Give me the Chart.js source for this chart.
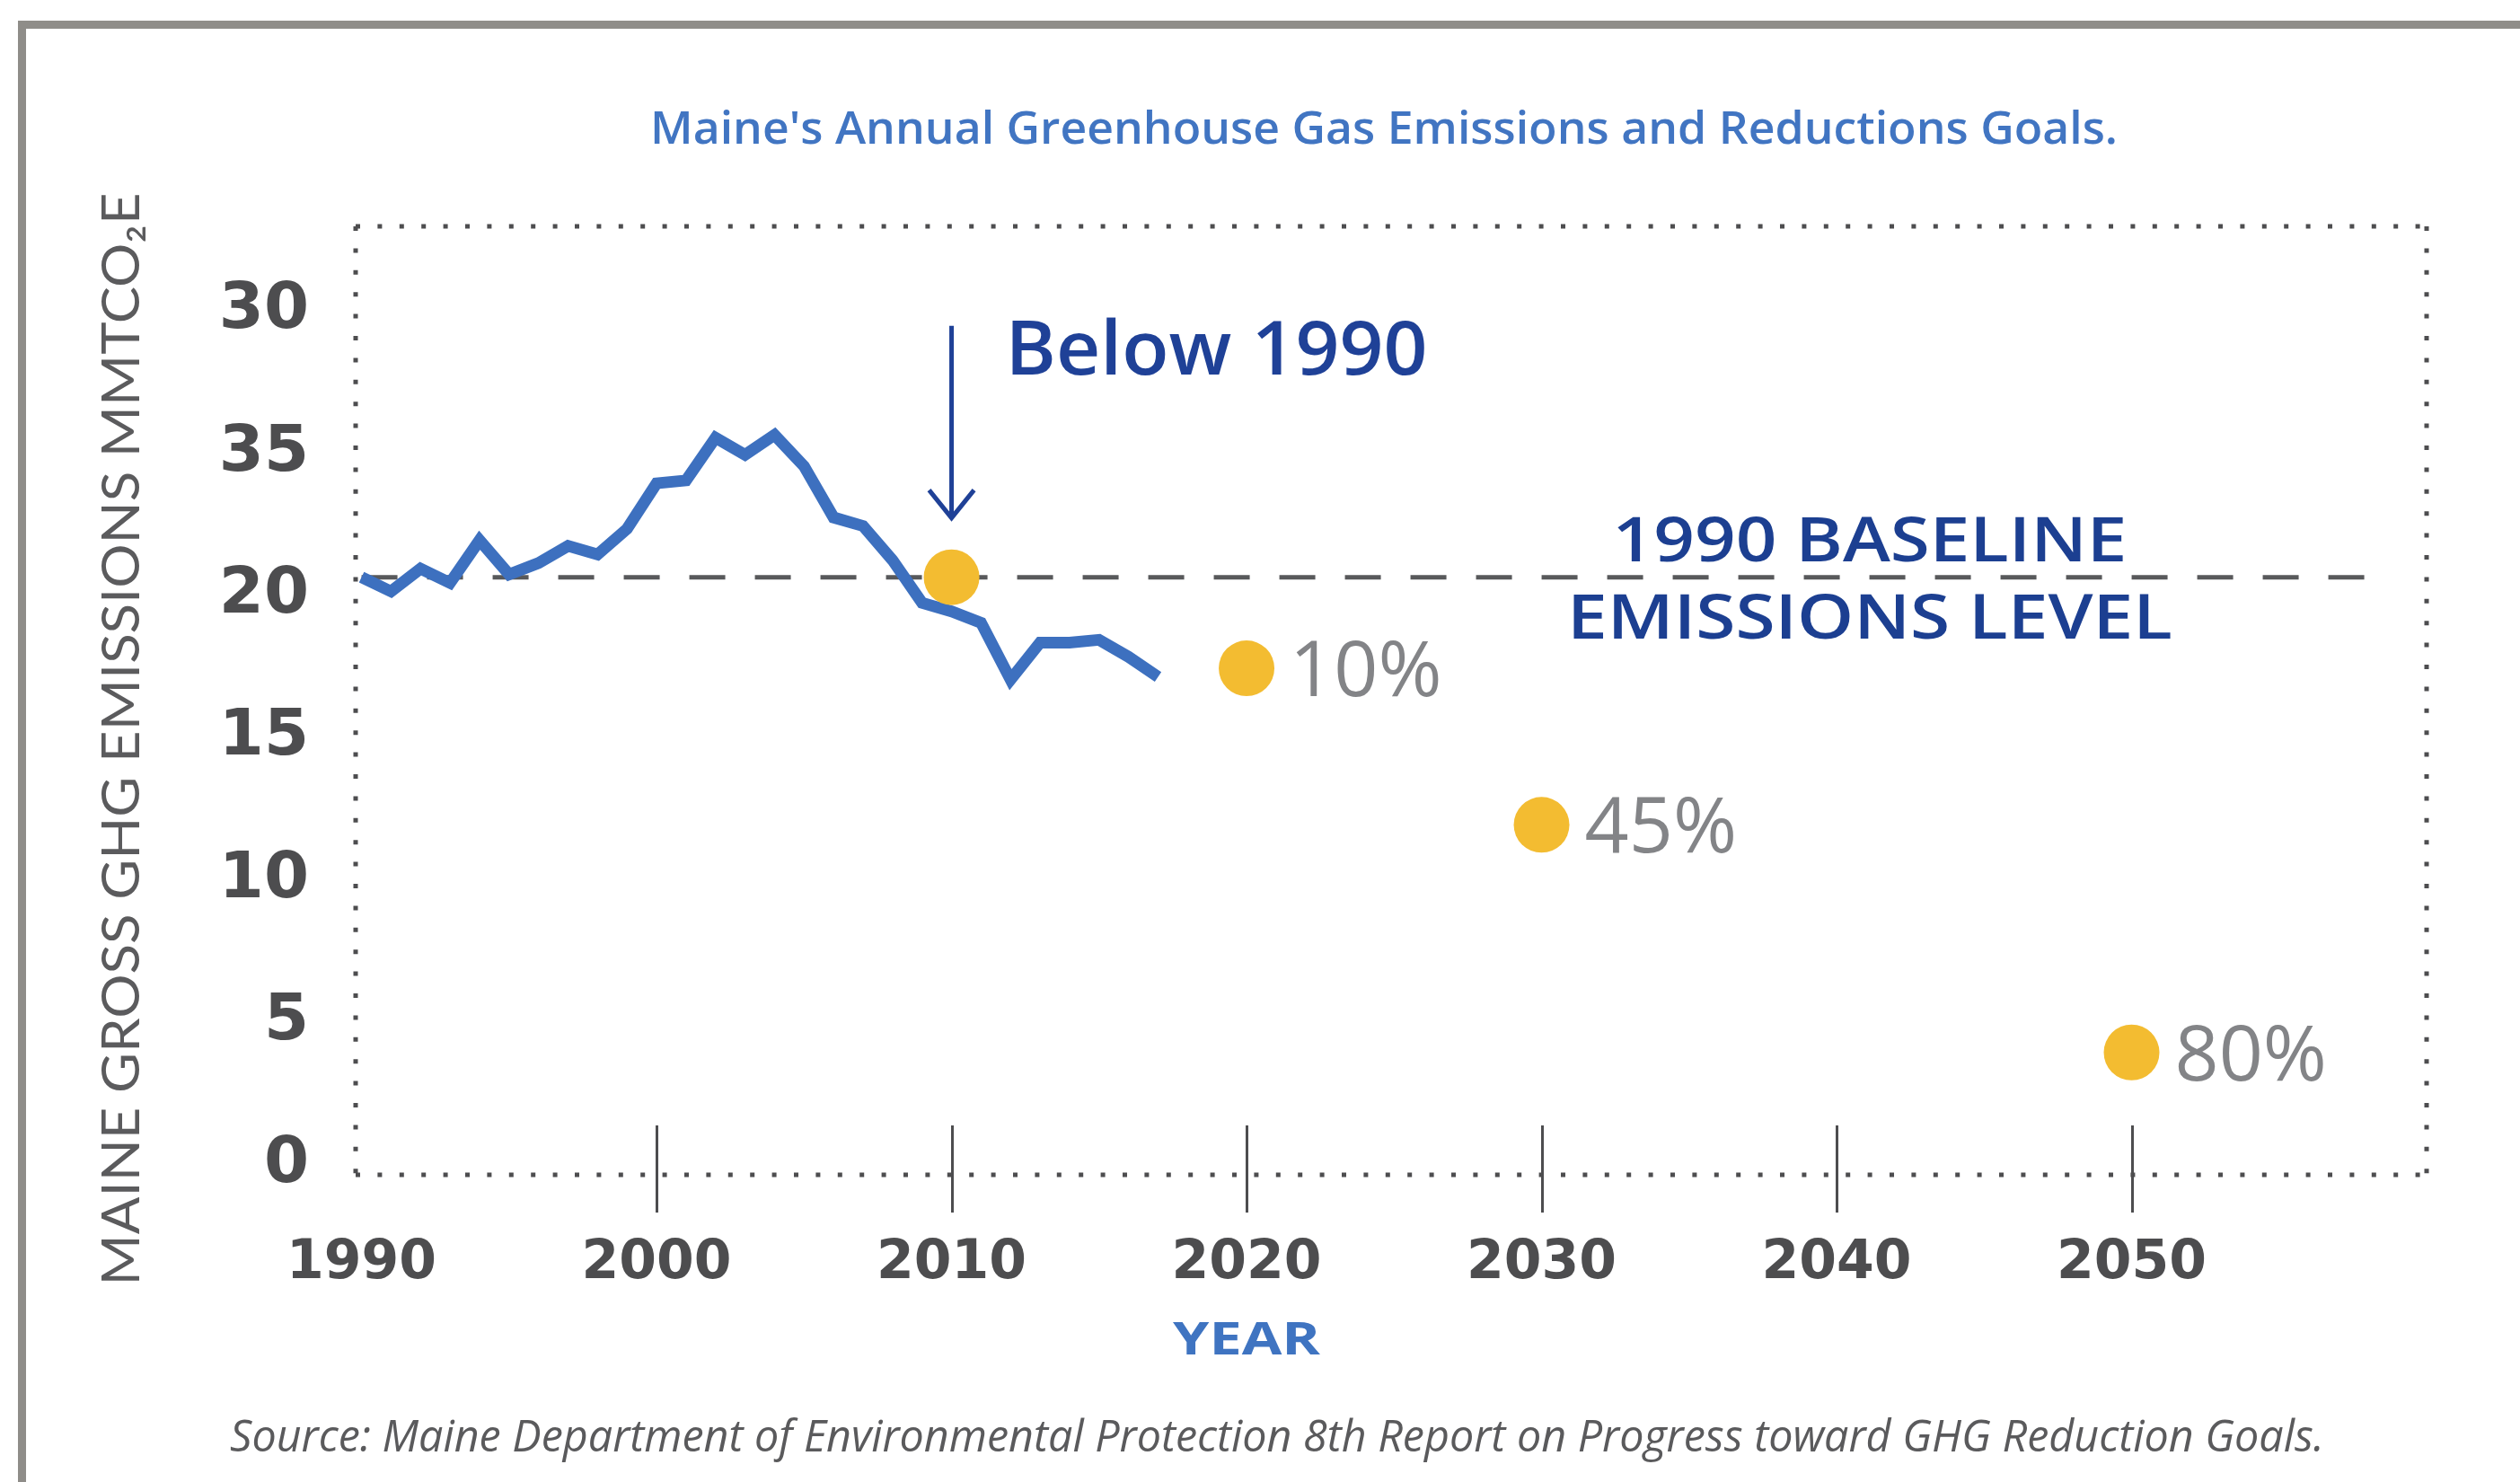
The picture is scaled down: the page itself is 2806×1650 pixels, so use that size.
<!DOCTYPE html>
<html>
<head>
<meta charset="utf-8">
<title>Maine's Annual Greenhouse Gas Emissions and Reductions Goals</title>
<script src="https://cdn.jsdelivr.net/npm/chart.js@4.4.1/dist/chart.umd.min.js"></script>
<style>
    html, body { margin: 0; padding: 0; background: #ffffff; }
    #chartWrap { width: 2806px; height: 1650px; }
</style>
</head>
<body>
<div id="chartWrap"><canvas id="ghgChart" width="2806" height="1650"></canvas></div>
<script>
// Maine gross GHG emissions (MMTCO2e)
const emissionYears = [1990, 1991, 1992, 1993, 1994, 1995, 1996, 1997, 1998, 1999,
    2000, 2001, 2002, 2003, 2004, 2005, 2006, 2007, 2008, 2009,
    2010, 2011, 2012, 2013, 2014, 2015, 2016, 2017];
const emissionValues = [21.0, 20.5, 21.3, 20.8, 22.3, 21.1, 21.5, 22.1, 21.8, 22.7,
    24.3, 24.4, 25.9, 25.3, 26.0, 24.9, 23.1, 22.8, 21.6, 20.1,
    19.8, 19.4, 17.4, 18.7, 18.7, 18.8, 18.2, 17.5];

// reduction goals
const goalYears = [2010, 2020, 2030, 2050];
const goalValues = [21.0, 17.8, 12.3, 4.3];
const goalLabels = ['', '10%', '45%', '80%'];

// 1990 baseline level
const baselineYears = [1990, 2058.4];
const baselineValues = [21.0, 21.0];

const xTickYears = [1990, 2000, 2010, 2020, 2030, 2040, 2050];
const yTickValues = [0, 5, 10, 15, 20, 25, 30];
const yTickLabels = ['0', '5', '10', '15', '20', '35', '30'];

const chartTitle = "Maine's Annual Greenhouse Gas Emissions and Reductions Goals.";
const yAxisTitle = 'MAINE GROSS GHG EMISSIONS MMTCO\u2082E';
const xAxisTitle = 'YEAR';
const calloutText = 'Below 1990';
const baselineText = ['1990 BASELINE', 'EMISSIONS LEVEL'];
const sourceText = 'Source: Maine Department of Environmental Protection 8th Report on Progress toward GHG Reduction Goals.';

// draw text stretched/squeezed to a given width
function fitText(ctx, text, x, y, width, align) {
    const natural = ctx.measureText(text).width;
    ctx.save();
    ctx.translate(x, y);
    ctx.scale(width / natural, 1);
    ctx.textAlign = align;
    ctx.fillText(text, 0, 0);
    ctx.restore();
}

const decorPlugin = {
    id: 'decor',
    beforeDraw(chart) {
        const ctx = chart.ctx;
        ctx.save();
        ctx.fillStyle = '#ffffff';
        ctx.fillRect(0, 0, chart.width, chart.height);
        // outer frame (top and left only)
        ctx.fillStyle = '#8f8d89';
        ctx.fillRect(20, 23, chart.width - 20, 9);
        ctx.fillRect(20, 23, 9, chart.height - 23);
        ctx.restore();
    },
    beforeDatasetsDraw(chart) {
        const { ctx, chartArea: a, scales: { x } } = chart;
        ctx.save();
        // dotted plot box
        ctx.strokeStyle = '#4d4d4f';
        ctx.lineWidth = 5;
        ctx.setLineDash([5, 19.4]);
        ctx.beginPath();
        ctx.moveTo(a.left, a.top); ctx.lineTo(a.right, a.top);
        ctx.moveTo(a.left, a.bottom); ctx.lineTo(a.right, a.bottom);
        ctx.moveTo(a.left, a.top); ctx.lineTo(a.left, a.bottom);
        ctx.moveTo(a.right, a.top); ctx.lineTo(a.right, a.bottom);
        ctx.stroke();

        // year tick marks crossing the axis
        ctx.setLineDash([]);
        ctx.lineWidth = 3;
        ctx.strokeStyle = '#4d4d4f';
        ctx.beginPath();
        x.ticks.forEach(function(t, i) {
            if (i === 0) return;
            const px = Math.round(x.getPixelForValue(t.value)) + 0.5;
            ctx.moveTo(px, a.bottom - 55);
            ctx.lineTo(px, a.bottom + 42);
        });
        ctx.stroke();
        ctx.restore();
    },
    afterDraw(chart) {
        const { ctx, scales: { x, y } } = chart;
        const goalMeta = chart.getDatasetMeta(0);
        ctx.save();
        ctx.textBaseline = 'alphabetic';

        // title
        ctx.fillStyle = '#4175c2';
        ctx.font = '600 50px "Open Sans"';
        fitText(ctx, chartTitle, 1541, 160, 1634, 'center');

        // y axis title (rotated)
        ctx.save();
        ctx.translate(155, 823);
        ctx.rotate(-Math.PI / 2);
        ctx.fillStyle = '#5b5b5d';
        ctx.font = '400 58px Lato';
        fitText(ctx, yAxisTitle, 0, 0, 1217, 'center');
        ctx.restore();

        // x axis title
        ctx.fillStyle = '#3f74c1';
        ctx.font = '700 50px "Open Sans"';
        fitText(ctx, xAxisTitle, x.getPixelForValue(2020), 1508, 164, 'center');

        // "Below 1990" callout with arrow
        const dot = goalMeta.data[0];
        const arrowX = dot.x;
        const tipY = dot.y - 66;
        ctx.strokeStyle = '#1f4197';
        ctx.lineWidth = 5;
        ctx.beginPath();
        ctx.moveTo(arrowX, dot.y - 280);
        ctx.lineTo(arrowX, tipY);
        ctx.moveTo(arrowX - 25, tipY - 31);
        ctx.lineTo(arrowX, tipY);
        ctx.lineTo(arrowX + 25, tipY - 31);
        ctx.stroke();
        ctx.fillStyle = '#1f4197';
        ctx.font = '600 84px "Open Sans"';
        fitText(ctx, calloutText, arrowX + 60, 417, 470, 'left');

        // baseline label
        const baseY = y.getPixelForValue(baselineValues[0]);
        ctx.fillStyle = '#1c3f91';
        ctx.font = '600 68px "Open Sans"';
        fitText(ctx, baselineText[0], 2082, baseY - 18, 573, 'center');
        fitText(ctx, baselineText[1], 2082, baseY + 68, 674, 'center');

        // goal percentages
        ctx.fillStyle = '#838487';
        ctx.font = '400 86px "Open Sans"';
        ctx.textAlign = 'left';
        goalMeta.data.forEach(function(el, i) {
            if (!goalLabels[i]) return;
            ctx.fillText(goalLabels[i], el.x + 48, el.y + 31);
        });

        // source note
        ctx.fillStyle = '#5a5a5c';
        ctx.font = 'italic 400 50px "Open Sans"';
        fitText(ctx, sourceText, 1422, 1616, 2332, 'center');

        ctx.restore();
    }
};

function buildChart() {
    const ctx = document.getElementById('ghgChart').getContext('2d');
    new Chart(ctx, {
        type: 'scatter',
        data: {
            datasets: [{
                label: 'Reduction goals',
                data: goalYears.map((yr, i) => ({ x: yr, y: goalValues[i] })),
                showLine: false,
                pointRadius: 31,
                pointBackgroundColor: '#f3bc31',
                pointBorderWidth: 0
            }, {
                label: 'Gross GHG emissions',
                data: emissionYears.map((yr, i) => ({ x: yr, y: emissionValues[i] })),
                showLine: true,
                borderColor: '#3d70bf',
                borderWidth: 13,
                pointRadius: 0
            }, {
                label: '1990 baseline',
                data: baselineYears.map((yr, i) => ({ x: yr, y: baselineValues[i] })),
                showLine: true,
                borderColor: '#58595b',
                borderWidth: 5,
                borderDash: [40, 33],
                pointRadius: 0
            }]
        },
        options: {
            responsive: false,
            animation: false,
            devicePixelRatio: 1,
            layout: {
                padding: { top: 252, right: 104, bottom: 192, left: 196 }
            },
            plugins: {
                legend: { display: false },
                tooltip: { enabled: false },
                title: { display: false }
            },
            scales: {
                x: {
                    type: 'linear',
                    min: 1989.8,
                    max: 2060,
                    afterBuildTicks: function(scale) {
                        scale.ticks = xTickYears.map(v => ({ value: v }));
                    },
                    afterFit: function(scale) { scale.height = 150; },
                    grid: { display: false },
                    border: { display: false },
                    ticks: {
                        padding: 55,
                        maxRotation: 0,
                        color: '#4d4d4f',
                        font: { family: 'DejaVu Sans', weight: 'bold', size: 60 },
                        callback: function(value) { return String(value); }
                    }
                },
                y: {
                    type: 'linear',
                    min: 0,
                    max: 33.33,
                    afterBuildTicks: function(scale) {
                        scale.ticks = yTickValues.map(v => ({ value: v }));
                    },
                    afterFit: function(scale) { scale.width = 200; },
                    grid: { display: false },
                    border: { display: false },
                    ticks: {
                        padding: 44,
                        labelOffset: -11,
                        color: '#4d4d4f',
                        font: { family: 'DejaVu Sans', weight: 'bold', size: 72 },
                        callback: function(value) {
                            return yTickLabels[yTickValues.indexOf(value)];
                        }
                    }
                }
            }
        },
        plugins: [decorPlugin]
    });
}

document.addEventListener('DOMContentLoaded', async function() {
    try {
        await Promise.all([
            '600 50px "Open Sans"',
            '400 86px "Open Sans"',
            'italic 400 50px "Open Sans"',
            '400 58px Lato',
            'bold 60px "DejaVu Sans"'
        ].map(f => document.fonts.load(f)));
    } catch (error) {
        // fall back to whatever is available
    }
    buildChart();
});
</script>
</body>
</html>
